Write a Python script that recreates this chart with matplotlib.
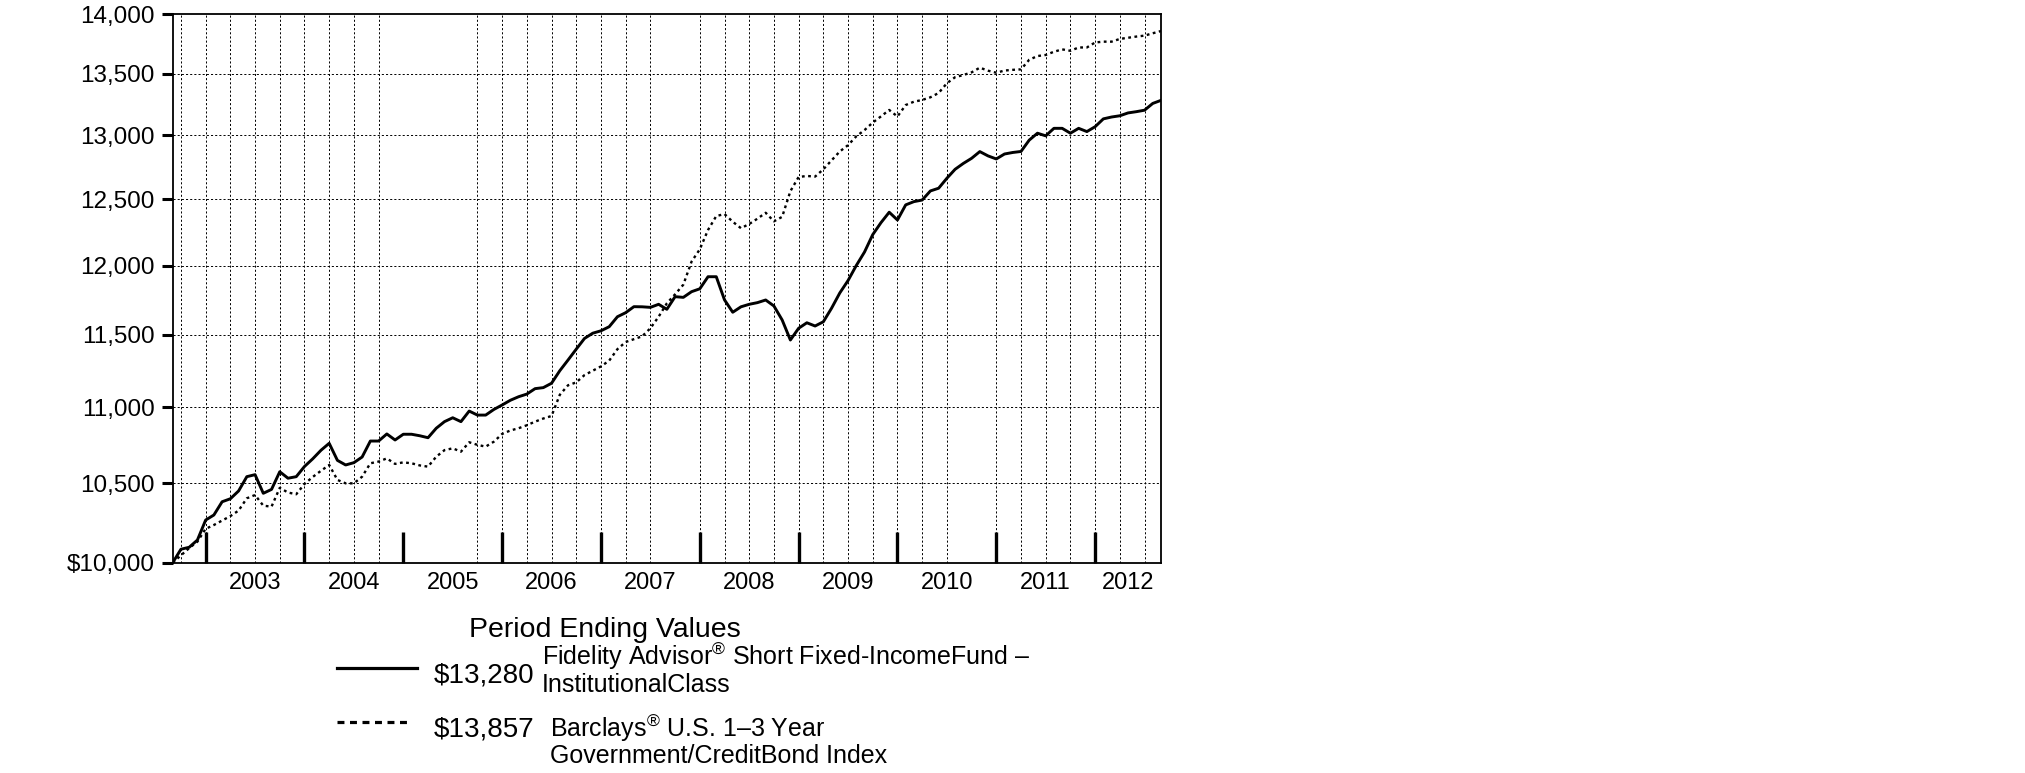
import numpy as np
import matplotlib
matplotlib.use('Agg')
import matplotlib.pyplot as plt
from matplotlib.lines import Line2D
from matplotlib.ticker import FixedLocator, NullLocator, FuncFormatter

plt.rcParams['font.family'] = ['Liberation Sans', 'DejaVu Sans']
plt.rcParams['lines.scale_dashes'] = False
plt.rcParams['mathtext.fontset'] = 'custom'
plt.rcParams['mathtext.rm'] = 'Liberation Sans'

# month-end values, Aug 2002 (0) .. Aug 2012 (120)
fund = [10000, 10083, 10095, 10140, 10265, 10297, 10381, 10400, 10450, 10542,
        10555, 10435, 10460, 10574, 10532, 10542, 10608, 10658, 10714, 10760,
        10648, 10618, 10633, 10670, 10775, 10775, 10822, 10782, 10820, 10820,
        10810, 10797, 10860, 10904, 10930, 10904, 10975, 10948, 10948, 10986,
        11016, 11048, 11072, 11090, 11127, 11134, 11164, 11250, 11324, 11400,
        11475, 11512, 11529, 11558, 11629, 11658, 11701, 11700, 11696, 11718,
        11682, 11773, 11768, 11809, 11830, 11918, 11918, 11750, 11661, 11700,
        11718, 11730, 11749, 11706, 11606, 11464, 11547, 11586, 11563, 11593,
        11690, 11800, 11890, 12000, 12100, 12230, 12320, 12399, 12340, 12455,
        12480, 12492, 12562, 12583, 12660, 12730, 12776, 12816, 12869, 12835,
        12811, 12850, 12862, 12870, 12960, 13015, 12994, 13054, 13054, 13015,
        13054, 13028, 13067, 13130, 13145, 13155, 13178, 13188, 13200, 13255,
        13280]
index = [10000, 10045, 10090, 10130, 10210, 10234, 10262, 10290, 10325, 10403,
         10424, 10356, 10350, 10470, 10440, 10429, 10495, 10540, 10580, 10618,
         10521, 10499, 10499, 10542, 10629, 10640, 10661, 10625, 10635, 10629,
         10615, 10607, 10672, 10715, 10727, 10705, 10767, 10750, 10738, 10771,
         10822, 10845, 10860, 10880, 10904, 10925, 10942, 11085, 11150, 11170,
         11220, 11250, 11280, 11320, 11400, 11450, 11470, 11490, 11547, 11629,
         11725, 11790, 11860, 12029, 12120, 12265, 12370, 12385, 12327, 12278,
         12310, 12350, 12395, 12330, 12364, 12560, 12670, 12678, 12673, 12730,
         12800, 12870, 12920, 12990, 13040, 13100, 13150, 13202, 13149, 13242,
         13269, 13283, 13305, 13340, 13420, 13470, 13488, 13510, 13549, 13524,
         13507, 13525, 13531, 13535, 13615, 13646, 13655, 13682, 13702, 13690,
         13718, 13718, 13760, 13767, 13767, 13790, 13800, 13810, 13818, 13838,
         13857]

years = ['2003', '2004', '2005', '2006', '2007', '2008', '2009', '2010', '2011', '2012']
year_starts = [4, 16, 28, 40, 52, 64, 76, 88, 100, 112]   # Dec 31 month index
yticks = [10000, 10500, 11000, 11500, 12000, 12500, 13000, 13500, 14000]

fund_name = ['Fidelity Advisor$^{\u00ae}$ Short Fixed-IncomeFund \u2013', 'InstitutionalClass']
index_name = ['Barclays$^{\u00ae}$ U.S. 1\u20133 Year', 'Government/CreditBond Index']
fund_end = '$13,280'
index_end = '$13,857'

W, H = 2025, 773
fig = plt.figure(figsize=(W / 100, H / 100), dpi=100)
ax = fig.add_axes([172.7 / W, 1 - 562.7 / H, (1161 - 172.7) / W, (562.7 - 14.3) / H])

months = np.arange(len(fund))
n = len(fund) - 1

# grid (the original leaves out a few quarter lines)
for m in range(1, n, 3):
    if m in (28, 31, 34, 61, 97):
        continue
    ax.axvline(m, color='black', lw=0.7, ls=(0, (1.5, 1.5)), zorder=1)
for v in yticks[1:-1]:
    ax.axhline(v, color='black', lw=0.7, ls=(0, (1.5, 1.5)), zorder=1)

ax.plot(months, index, color='black', lw=1.7, ls=(0, (2, 2.5)), zorder=3)
ax.plot(months, fund, color='black', lw=2.1, zorder=4)

ax.set_yscale('log')
ax.set_ylim(10000, 14000)
ax.set_xlim(0, n)
ax.yaxis.set_major_locator(FixedLocator(yticks))
ax.yaxis.set_minor_locator(NullLocator())
ax.yaxis.set_major_formatter(FuncFormatter(
    lambda v, p: ('$' if v == 10000 else '') + f'{v:,.0f}'))
ax.yaxis.set_minor_formatter(FuncFormatter(lambda v, p: ''))
ax.tick_params(axis='y', which='major', direction='out', length=8, width=2.2,
               labelsize=17.5, pad=5)

ax.set_xticks(year_starts)
ax.set_xticklabels([])
centers = [(a + b) / 2 for a, b in zip(year_starts, year_starts[1:] + [n])]
ax.set_xticks(centers, minor=True)
ax.set_xticklabels(years, minor=True)
ax.tick_params(axis='x', which='major', direction='in', length=22, width=2.4)
ax.tick_params(axis='x', which='minor', length=0, labelsize=17, pad=7)

for s in ax.spines.values():
    s.set_linewidth(1.3)

# legend block
def fx(px):
    return px / W

def fy(py):
    return 1 - py / H

fig.text(fx(469), fy(637), 'Period Ending Values', fontsize=20.5, va='baseline')
fig.add_artist(Line2D([fx(337), fx(417)], [fy(668), fy(668)], color='black', lw=2.3))
fig.add_artist(Line2D([fx(337), fx(412)], [fy(722), fy(722)], color='black', lw=2.3,
                      ls=(0, (5, 4))))
fig.text(fx(434), fy(683), fund_end, fontsize=20, va='baseline')
fig.text(fx(542), fy(665), fund_name[0], fontsize=18, va='baseline')
fig.text(fx(542), fy(692), fund_name[1], fontsize=18, va='baseline')
fig.text(fx(434), fy(737), index_end, fontsize=20, va='baseline')
fig.text(fx(550), fy(737), index_name[0], fontsize=18, va='baseline')
fig.text(fx(550), fy(763), index_name[1], fontsize=18, va='baseline')

fig.savefig('out.png', dpi=100)
